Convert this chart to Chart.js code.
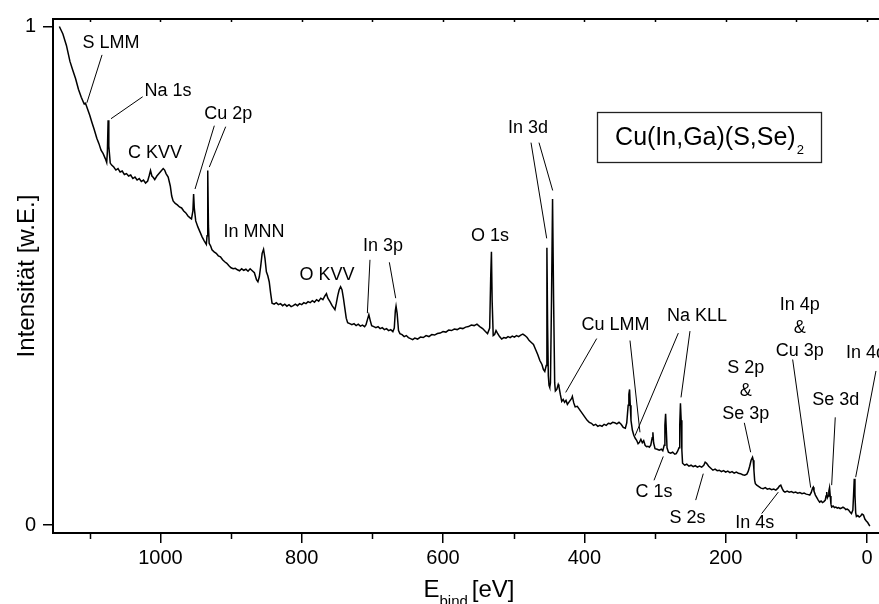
<!DOCTYPE html>
<html>
<head>
<meta charset="utf-8">
<script src="https://cdn.jsdelivr.net/npm/chart.js@4.4.0/dist/chart.umd.min.js"></script>
<style>
    body { margin: 0; background: #fff; }
    canvas { display: block; }
</style>
</head>
<body>
<canvas id="xpsChartID" width="879" height="604"></canvas>
<script>
// spectrum, binding energy in eV and normalised intensity
var binding_energy = [
    1143, 1138, 1133, 1128, 1124, 1120, 1116, 1112, 1108, 1106,
    1104, 1100, 1097, 1094, 1090, 1087, 1084, 1081, 1078, 1076,
    1075, 1074, 1073, 1071, 1069, 1066, 1063, 1060, 1057, 1054,
    1051, 1048, 1045, 1042, 1039, 1036, 1033, 1030, 1027, 1024,
    1021, 1018, 1016, 1014, 1012, 1010, 1008, 1005, 1002, 999,
    996, 994, 992, 989, 986, 984, 982, 979, 976, 973,
    970, 967, 964, 961, 958, 956, 954, 953, 952, 950,
    947, 944, 941, 938, 935, 934, 933, 932, 931, 929,
    927, 924, 921, 918, 915, 912, 909, 906, 903, 900,
    897, 894, 891, 888, 885, 882, 879, 876, 873, 870,
    867, 864, 862, 860, 858, 856, 854, 852, 850, 848,
    846, 844, 842, 839, 836, 833, 830, 827, 824, 821,
    818, 815, 812, 809, 806, 803, 800, 797, 794, 791,
    788, 785, 782, 779, 776, 773, 770, 767, 765, 763,
    760, 757, 755, 753, 751, 749, 747, 745, 743, 741,
    739, 737, 735, 732, 729, 726, 723, 720, 717, 714,
    711, 709, 707, 705, 703, 701, 698, 695, 692, 689,
    686, 683, 680, 677, 674, 671, 669, 667.5, 666.5, 665,
    663, 661, 658, 655, 652, 649, 646, 643, 640, 636,
    632, 628, 624, 620, 616, 612, 608, 604, 600, 596,
    592, 588, 584, 580, 576, 572, 568, 564, 560, 556,
    552, 548, 544, 540, 537, 534, 532.5, 531.5, 530.5, 529,
    527, 525, 523, 520, 517, 514, 511, 508, 505, 502,
    499, 496, 493, 490, 487, 484, 481, 478, 475, 472,
    469, 466, 463, 460, 458, 456, 454, 453, 452, 451,
    450, 449, 448, 446.5, 445, 443.5, 442, 441, 439, 437,
    436, 434, 432, 430, 428, 426, 424, 422, 420, 418,
    417, 415, 413, 410, 408, 405, 402, 399, 396, 393,
    390, 387, 384, 381, 378, 375, 372, 369, 366, 363,
    360, 357, 354, 351, 348, 345, 342, 340, 338, 337,
    336, 335, 334, 332, 330, 328, 326, 324, 322, 320,
    318, 316, 314, 312, 310, 308, 306, 304, 303, 302,
    300, 297, 294, 291, 289, 287, 286, 285, 284, 283,
    281, 278, 275, 272, 270, 268, 266, 265, 264, 263,
    262, 261, 258, 255, 252, 249, 246, 243, 240, 237,
    234, 231, 229, 227, 224, 221, 218, 215, 212, 209,
    206, 203, 200, 197, 194, 191, 188, 185, 182, 179,
    176, 173, 170, 168, 166, 164, 162, 161, 160, 159,
    158, 156, 154, 152, 150, 147, 144, 141, 138, 135,
    132, 129, 126, 124, 122, 120, 118, 116, 113, 110,
    107, 104, 101, 98, 95, 92, 89, 86, 83, 81,
    79, 77, 76, 75, 73, 71, 69, 67, 65, 63,
    61, 59, 58, 57, 56, 55, 54, 53, 52, 51,
    50, 48, 46, 44, 42, 40, 38, 36, 34, 32,
    30, 28, 26, 24, 22, 20, 19, 18, 17, 16,
    15, 13, 11, 9, 7, 5, 3, 1, -1, -4
];
var intensity = [
    1.000, 0.985, 0.962, 0.930, 0.912, 0.895, 0.874, 0.858, 0.845, 0.846,
    0.838, 0.822, 0.808, 0.795, 0.776, 0.765, 0.752, 0.745, 0.735, 0.727,
    0.750, 0.812, 0.760, 0.726, 0.722, 0.718, 0.712, 0.715, 0.708, 0.710,
    0.703, 0.705, 0.700, 0.702, 0.695, 0.698, 0.692, 0.695, 0.689, 0.692,
    0.686, 0.690, 0.700, 0.711, 0.700, 0.697, 0.693, 0.700, 0.705, 0.710,
    0.715, 0.712, 0.705, 0.698, 0.680, 0.660, 0.650, 0.645, 0.642, 0.638,
    0.636, 0.630, 0.626, 0.620, 0.616, 0.614, 0.630, 0.664, 0.635, 0.610,
    0.598, 0.588, 0.578, 0.570, 0.563, 0.580, 0.711, 0.600, 0.565, 0.560,
    0.552, 0.548, 0.545, 0.540, 0.538, 0.532, 0.528, 0.525, 0.520, 0.516,
    0.514, 0.515, 0.512, 0.510, 0.514, 0.511, 0.513, 0.509, 0.514, 0.510,
    0.506, 0.492, 0.488, 0.498, 0.520, 0.545, 0.553, 0.535, 0.508, 0.500,
    0.488, 0.465, 0.445, 0.443, 0.446, 0.442, 0.444, 0.440, 0.443, 0.439,
    0.442, 0.438, 0.440, 0.443, 0.440, 0.444, 0.442, 0.446, 0.444, 0.448,
    0.446, 0.450, 0.447, 0.452, 0.449, 0.455, 0.452, 0.460, 0.464, 0.455,
    0.448, 0.440, 0.436, 0.432, 0.445, 0.460, 0.472, 0.478, 0.472, 0.455,
    0.435, 0.415, 0.406, 0.404, 0.402, 0.404, 0.400, 0.403, 0.399, 0.401,
    0.398, 0.402, 0.412, 0.422, 0.410, 0.400, 0.398, 0.396, 0.398, 0.394,
    0.396, 0.392, 0.394, 0.390, 0.392, 0.388, 0.395, 0.430, 0.439, 0.425,
    0.390, 0.384, 0.382, 0.378, 0.380, 0.376, 0.374, 0.372, 0.375, 0.373,
    0.377, 0.376, 0.380, 0.378, 0.382, 0.381, 0.384, 0.385, 0.388, 0.387,
    0.391, 0.390, 0.393, 0.392, 0.395, 0.394, 0.397, 0.398, 0.401, 0.400,
    0.403, 0.398, 0.394, 0.388, 0.384, 0.395, 0.500, 0.548, 0.450, 0.380,
    0.382, 0.390, 0.385, 0.378, 0.373, 0.376, 0.375, 0.378, 0.376, 0.379,
    0.377, 0.380, 0.378, 0.381, 0.383, 0.380, 0.376, 0.370, 0.366, 0.362,
    0.352, 0.342, 0.330, 0.322, 0.312, 0.308, 0.320, 0.556, 0.400, 0.300,
    0.280, 0.276, 0.285, 0.450, 0.654, 0.450, 0.285, 0.269, 0.272, 0.282,
    0.278, 0.262, 0.248, 0.252, 0.246, 0.250, 0.242, 0.246, 0.250, 0.254,
    0.258, 0.245, 0.237, 0.238, 0.234, 0.228, 0.222, 0.216, 0.210, 0.206,
    0.204, 0.200, 0.202, 0.198, 0.200, 0.198, 0.202, 0.200, 0.204, 0.203,
    0.206, 0.205, 0.203, 0.206, 0.202, 0.196, 0.194, 0.205, 0.240, 0.262,
    0.272, 0.240, 0.210, 0.190, 0.180, 0.174, 0.170, 0.163, 0.166, 0.172,
    0.165, 0.169, 0.160, 0.157, 0.158, 0.156, 0.160, 0.175, 0.186, 0.165,
    0.153, 0.152, 0.150, 0.152, 0.149, 0.160, 0.200, 0.223, 0.190, 0.155,
    0.146, 0.144, 0.146, 0.142, 0.143, 0.148, 0.155, 0.200, 0.244, 0.210,
    0.150, 0.124, 0.120, 0.122, 0.118, 0.120, 0.117, 0.119, 0.116, 0.118,
    0.116, 0.120, 0.126, 0.124, 0.118, 0.114, 0.110, 0.112, 0.109, 0.110,
    0.107, 0.109, 0.106, 0.108, 0.105, 0.107, 0.104, 0.106, 0.104, 0.103,
    0.101, 0.100, 0.102, 0.108, 0.118, 0.130, 0.136, 0.130, 0.110, 0.090,
    0.083, 0.080, 0.078, 0.076, 0.074, 0.073, 0.075, 0.072, 0.073, 0.071,
    0.072, 0.070, 0.074, 0.078, 0.080, 0.073, 0.068, 0.066, 0.068, 0.066,
    0.067, 0.065, 0.066, 0.064, 0.065, 0.063, 0.064, 0.062, 0.061, 0.060,
    0.065, 0.074, 0.076, 0.068, 0.060, 0.055, 0.050, 0.046, 0.048, 0.045,
    0.047, 0.050, 0.058, 0.066, 0.055, 0.058, 0.068, 0.075, 0.058, 0.042,
    0.036, 0.038, 0.035, 0.036, 0.034, 0.035, 0.033, 0.034, 0.036, 0.034,
    0.031, 0.032, 0.030, 0.026, 0.023, 0.030, 0.060, 0.093, 0.060, 0.025,
    0.017, 0.019, 0.016, 0.018, 0.022, 0.020, 0.012, 0.008, 0.005, -0.002
];

var x_major_ticks = [0, 200, 400, 600, 800, 1000];
var x_minor_ticks = [100, 300, 500, 700, 900, 1100];
var y_ticks = [0, 1];

// peak labels, anchored in data units (eV, intensity)
var peak_names = ['S LMM', 'Na 1s', 'C KVV', 'Cu 2p', 'In MNN', 'O KVV', 'In 3p', 'O 1s', 'In 3d',
    'Cu LMM', 'Na KLL', 'C 1s', 'S 2s', 'In 4s', ['S 2p', '&', 'Se 3p'], ['In 4p', '&', 'Cu 3p'], 'Se 3d', 'In 4d'];
var peak_label_energy = [1070, 989.2, 1007.6, 904, 867.5, 764.2, 685, 533.5, 479.8,
    356, 240.6, 301.4, 254, 159, 171.7, 95.2, 44.3, 1.4];
var peak_label_intensity = [0.967, 0.870, 0.747, 0.824, 0.588, 0.502, 0.560, 0.580, 0.797,
    0.401, 0.4186, 0.066, 0.014, 0.003, 0.3155, 0.442, 0.2505, 0.3455];

// leader lines [E1, I1, E2, I2]
var leader_lines = [
    [1082.6, 0.943, 1104, 0.847],
    [1025.1, 0.859, 1069.9, 0.815],
    [923.7, 0.801, 951, 0.674],
    [907.6, 0.799, 930.8, 0.718],
    [703.4, 0.532, 707.1, 0.425],
    [676, 0.527, 667, 0.455],
    [475.5, 0.767, 453.3, 0.575],
    [464.2, 0.767, 444.8, 0.671],
    [382.5, 0.374, 426.4, 0.266],
    [335.4, 0.370, 321.3, 0.186],
    [267, 0.385, 328.3, 0.179],
    [250.5, 0.389, 263.2, 0.256],
    [301.4, 0.0897, 288.3, 0.1375],
    [242.4, 0.050, 231.7, 0.103],
    [149, 0.023, 125.5, 0.066],
    [173.6, 0.205, 164.6, 0.146],
    [105.2, 0.332, 79.7, 0.075],
    [44.9, 0.216, 50, 0.080],
    [-12.7, 0.309, 16, 0.096]
];

var sample_name = 'Cu(In,Ga)(S,Se)';
var sample_index = '2';
var sample_box = [381.7, 0.8286, 64.1, 0.7289];

var font_family = '"Liberation Sans", Arial, Helvetica, sans-serif';
Chart.defaults.font.family = font_family;
Chart.defaults.color = '#000';

var spectrum_points = [];
for (var i = 0; i < binding_energy.length; i++) {
    spectrum_points.push({x: binding_energy[i], y: intensity[i]});
}

var annotation_plugin = {
    id: 'peakAnnotations',
    afterDatasetsDraw: function(chart) {
        var ctx = chart.ctx;
        var xs = chart.scales.x;
        var ys = chart.scales.y;
        var area = chart.chartArea;
        ctx.save();
        ctx.strokeStyle = '#000';
        ctx.fillStyle = '#000';

        // top frame with small inward ticks
        ctx.lineWidth = 2;
        ctx.beginPath();
        ctx.moveTo(area.left, area.top);
        ctx.lineTo(area.right, area.top);
        ctx.stroke();
        ctx.lineWidth = 1.5;
        ctx.beginPath();
        x_major_ticks.concat(x_minor_ticks).forEach(function(v) {
            var px = Math.round(xs.getPixelForValue(v)) + 0.5;
            ctx.moveTo(px, area.top);
            ctx.lineTo(px, area.top + 3);
        });
        // minor ticks on the bottom axis
        x_minor_ticks.forEach(function(v) {
            var px = Math.round(xs.getPixelForValue(v)) + 0.5;
            ctx.moveTo(px, area.bottom);
            ctx.lineTo(px, area.bottom + 6);
        });
        ctx.stroke();

        // leader lines
        ctx.lineWidth = 1;
        ctx.beginPath();
        leader_lines.forEach(function(l) {
            ctx.moveTo(xs.getPixelForValue(l[0]), ys.getPixelForValue(l[1]));
            ctx.lineTo(xs.getPixelForValue(l[2]), ys.getPixelForValue(l[3]));
        });
        ctx.stroke();

        // peak labels
        ctx.font = '18px ' + font_family;
        ctx.textAlign = 'center';
        ctx.textBaseline = 'middle';
        peak_names.forEach(function(name, i) {
            var lines = [].concat(name);
            var px = xs.getPixelForValue(peak_label_energy[i]);
            var py = ys.getPixelForValue(peak_label_intensity[i]);
            lines.forEach(function(t, j) {
                ctx.fillText(t, px, py + j * 23.3);
            });
        });

        // sample box
        var bx1 = xs.getPixelForValue(sample_box[0]);
        var by1 = ys.getPixelForValue(sample_box[1]);
        var bx2 = xs.getPixelForValue(sample_box[2]);
        var by2 = ys.getPixelForValue(sample_box[3]);
        ctx.lineWidth = 1.3;
        ctx.strokeStyle = '#222';
        ctx.strokeRect(Math.round(bx1) + 0.5, Math.round(by1) + 0.5, Math.round(bx2 - bx1), Math.round(by2 - by1));
        ctx.textAlign = 'left';
        ctx.textBaseline = 'alphabetic';
        ctx.font = '25px ' + font_family;
        var w_main = ctx.measureText(sample_name).width;
        ctx.font = '13px ' + font_family;
        var w_sub = ctx.measureText(sample_index).width;
        var tx = (bx1 + bx2) / 2 - (w_main + w_sub + 1) / 2;
        var ty = (by1 + by2) / 2 + 8;
        ctx.font = '25px ' + font_family;
        ctx.fillText(sample_name, tx, ty);
        ctx.font = '13px ' + font_family;
        ctx.fillText(sample_index, tx + w_main + 1, ty + 9);

        // x axis title with subscript
        ctx.font = '24px ' + font_family;
        var w_e = ctx.measureText('E').width;
        var w_unit = ctx.measureText('[eV]').width;
        ctx.font = '15px ' + font_family;
        var w_bind = ctx.measureText('bind').width;
        var total = w_e + w_bind + 4 + w_unit;
        var sx = (area.left + area.right) / 2 - total / 2 + 3;
        var base = area.bottom + 64;
        ctx.font = '24px ' + font_family;
        ctx.fillText('E', sx, base);
        ctx.font = '15px ' + font_family;
        ctx.fillText('bind', sx + w_e, base + 9);
        ctx.font = '24px ' + font_family;
        ctx.fillText('[eV]', sx + w_e + w_bind + 4, base);

        ctx.restore();
    }
};

var spectrum_chart_config = {
    type: 'line',
    data: {
        datasets: [{
            data: spectrum_points,
            borderColor: '#000',
            borderWidth: 1.5,
            pointRadius: 0,
            tension: 0,
            fill: false
        }]
    },
    options: {
        responsive: false,
        devicePixelRatio: 1,
        animation: false,
        layout: {
            padding: {top: 16, left: 0, right: 0, bottom: 0}
        },
        plugins: {
            legend: {display: false},
            tooltip: {enabled: false}
        },
        scales: {
            x: {
                type: 'linear',
                reverse: true,
                min: -17,
                max: 1152,
                afterBuildTicks: function(scale) {
                    scale.ticks = x_major_ticks.map(function(v) { return {value: v}; });
                },
                afterFit: function(scale) { scale.height = 71; },
                grid: {drawOnChartArea: false, drawTicks: true, tickLength: 10, color: '#000', lineWidth: 1.5},
                border: {color: '#000', width: 2},
                ticks: {
                    color: '#000', font: {size: 20}, padding: 3, maxRotation: 0, autoSkip: false,
                    callback: function(value) { return String(value); }
                }
            },
            y: {
                min: -0.016,
                max: 1.015,
                afterBuildTicks: function(scale) {
                    scale.ticks = y_ticks.map(function(v) { return {value: v}; });
                },
                afterFit: function(scale) { scale.width = 53; },
                grid: {drawOnChartArea: false, drawTicks: true, tickLength: 10, color: '#000', lineWidth: 1.5},
                border: {color: '#000', width: 2},
                ticks: {
                    color: '#000', font: {size: 20}, padding: 7, autoSkip: false,
                    callback: function(value) { return String(value); }
                },
                title: {
                    display: true,
                    text: 'Intensität [w.E.]',
                    color: '#000',
                    font: {size: 24},
                    padding: {top: 13, bottom: 0}
                }
            }
        }
    },
    plugins: [annotation_plugin]
};

var myContext = document.getElementById('xpsChartID');
var myChart = new Chart(myContext, spectrum_chart_config);
</script>
</body>
</html>
